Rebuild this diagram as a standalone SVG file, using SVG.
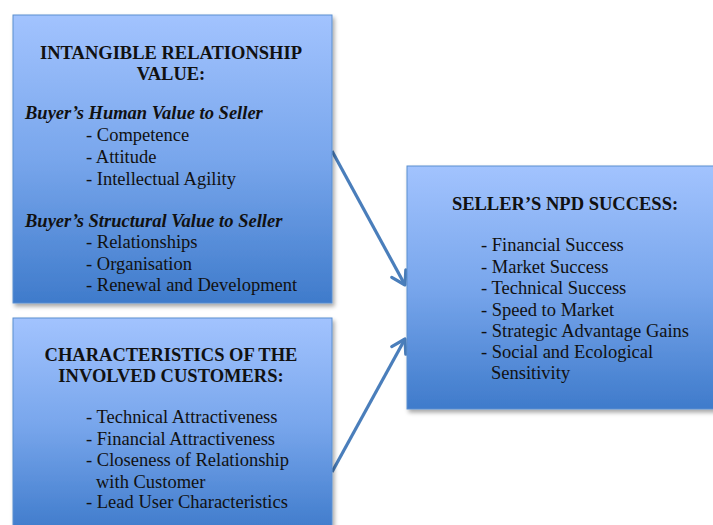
<svg xmlns="http://www.w3.org/2000/svg" width="713" height="525" viewBox="0 0 713 525">
  <defs>
    <linearGradient id="boxFill" x1="0" y1="0" x2="0" y2="1">
      <stop offset="0" stop-color="#a2c3fe"/>
      <stop offset="0.5" stop-color="#78a6ec"/>
      <stop offset="1" stop-color="#3f7bcb"/>
    </linearGradient>
    <filter id="shadow" x="-5%" y="-5%" width="115%" height="115%">
      <feDropShadow dx="2" dy="3" stdDeviation="2" flood-color="#000" flood-opacity="0.35"/>
    </filter>
    <marker id="arrowHead" markerUnits="userSpaceOnUse" markerWidth="24" markerHeight="24" refX="17" refY="10" orient="auto">
      <polyline points="4,2 17,10 4,18" fill="none" stroke="#4a7ebb" stroke-width="3.2" stroke-linecap="round" stroke-linejoin="round"/>
    </marker>
    <style>
      .box { fill: url(#boxFill); stroke: #5b8fd0; stroke-width: 1; filter: url(#shadow); }
      text { font-family: "Liberation Serif", "Times New Roman", serif; font-size: 18.5px; fill: #111; }
      .head { font-weight: bold; text-anchor: middle; }
      .sub { font-weight: bold; font-style: italic; }
      .conn { fill: none; stroke: #4a7ebb; stroke-width: 3.2; marker-end: url(#arrowHead); }
    </style>
  </defs>

  <rect width="713" height="525" fill="#ffffff"/>

  <!-- connectors -->
  <g id="connectors">
    <line class="conn" x1="332" y1="151" x2="405" y2="285"/>
    <line class="conn" x1="332" y1="472" x2="405" y2="339"/>
  </g>

  <!-- intangible relationship value -->
  <g id="intangible-value">
    <rect class="box" x="13" y="15" width="319" height="288"/>
    <text class="head" x="171" y="59">INTANGIBLE RELATIONSHIP</text>
    <text class="head" x="171" y="80">VALUE:</text>
    <text class="sub" x="25" y="119">Buyer’s Human Value to Seller</text>
    <text x="86" y="141">- Competence</text>
    <text x="86" y="163">- Attitude</text>
    <text x="86" y="185">- Intellectual Agility</text>
    <text class="sub" x="25" y="227">Buyer’s Structural Value to Seller</text>
    <text x="86" y="248">- Relationships</text>
    <text x="86" y="270">- Organisation</text>
    <text x="86" y="291">- Renewal and Development</text>
  </g>

  <!-- characteristics of the involved customers -->
  <g id="customer-characteristics">
    <rect class="box" x="13" y="318" width="319" height="214"/>
    <text class="head" x="171" y="361">CHARACTERISTICS OF THE</text>
    <text class="head" x="171" y="382">INVOLVED CUSTOMERS:</text>
    <text x="86" y="423">- Technical Attractiveness</text>
    <text x="86" y="445">- Financial Attractiveness</text>
    <text x="86" y="466">- Closeness of Relationship</text>
    <text x="96" y="488">with Customer</text>
    <text x="86" y="508">- Lead User Characteristics</text>
  </g>

  <!-- seller's NPD success -->
  <g id="npd-success">
    <rect class="box" x="407" y="166" width="316" height="243"/>
    <text class="head" x="565" y="210">SELLER’S NPD SUCCESS:</text>
    <text x="481" y="251">- Financial Success</text>
    <text x="481" y="273">- Market Success</text>
    <text x="481" y="294">- Technical Success</text>
    <text x="481" y="316">- Speed to Market</text>
    <text x="481" y="337">- Strategic Advantage Gains</text>
    <text x="481" y="358">- Social and Ecological</text>
    <text x="491" y="379">Sensitivity</text>
  </g>
</svg>
